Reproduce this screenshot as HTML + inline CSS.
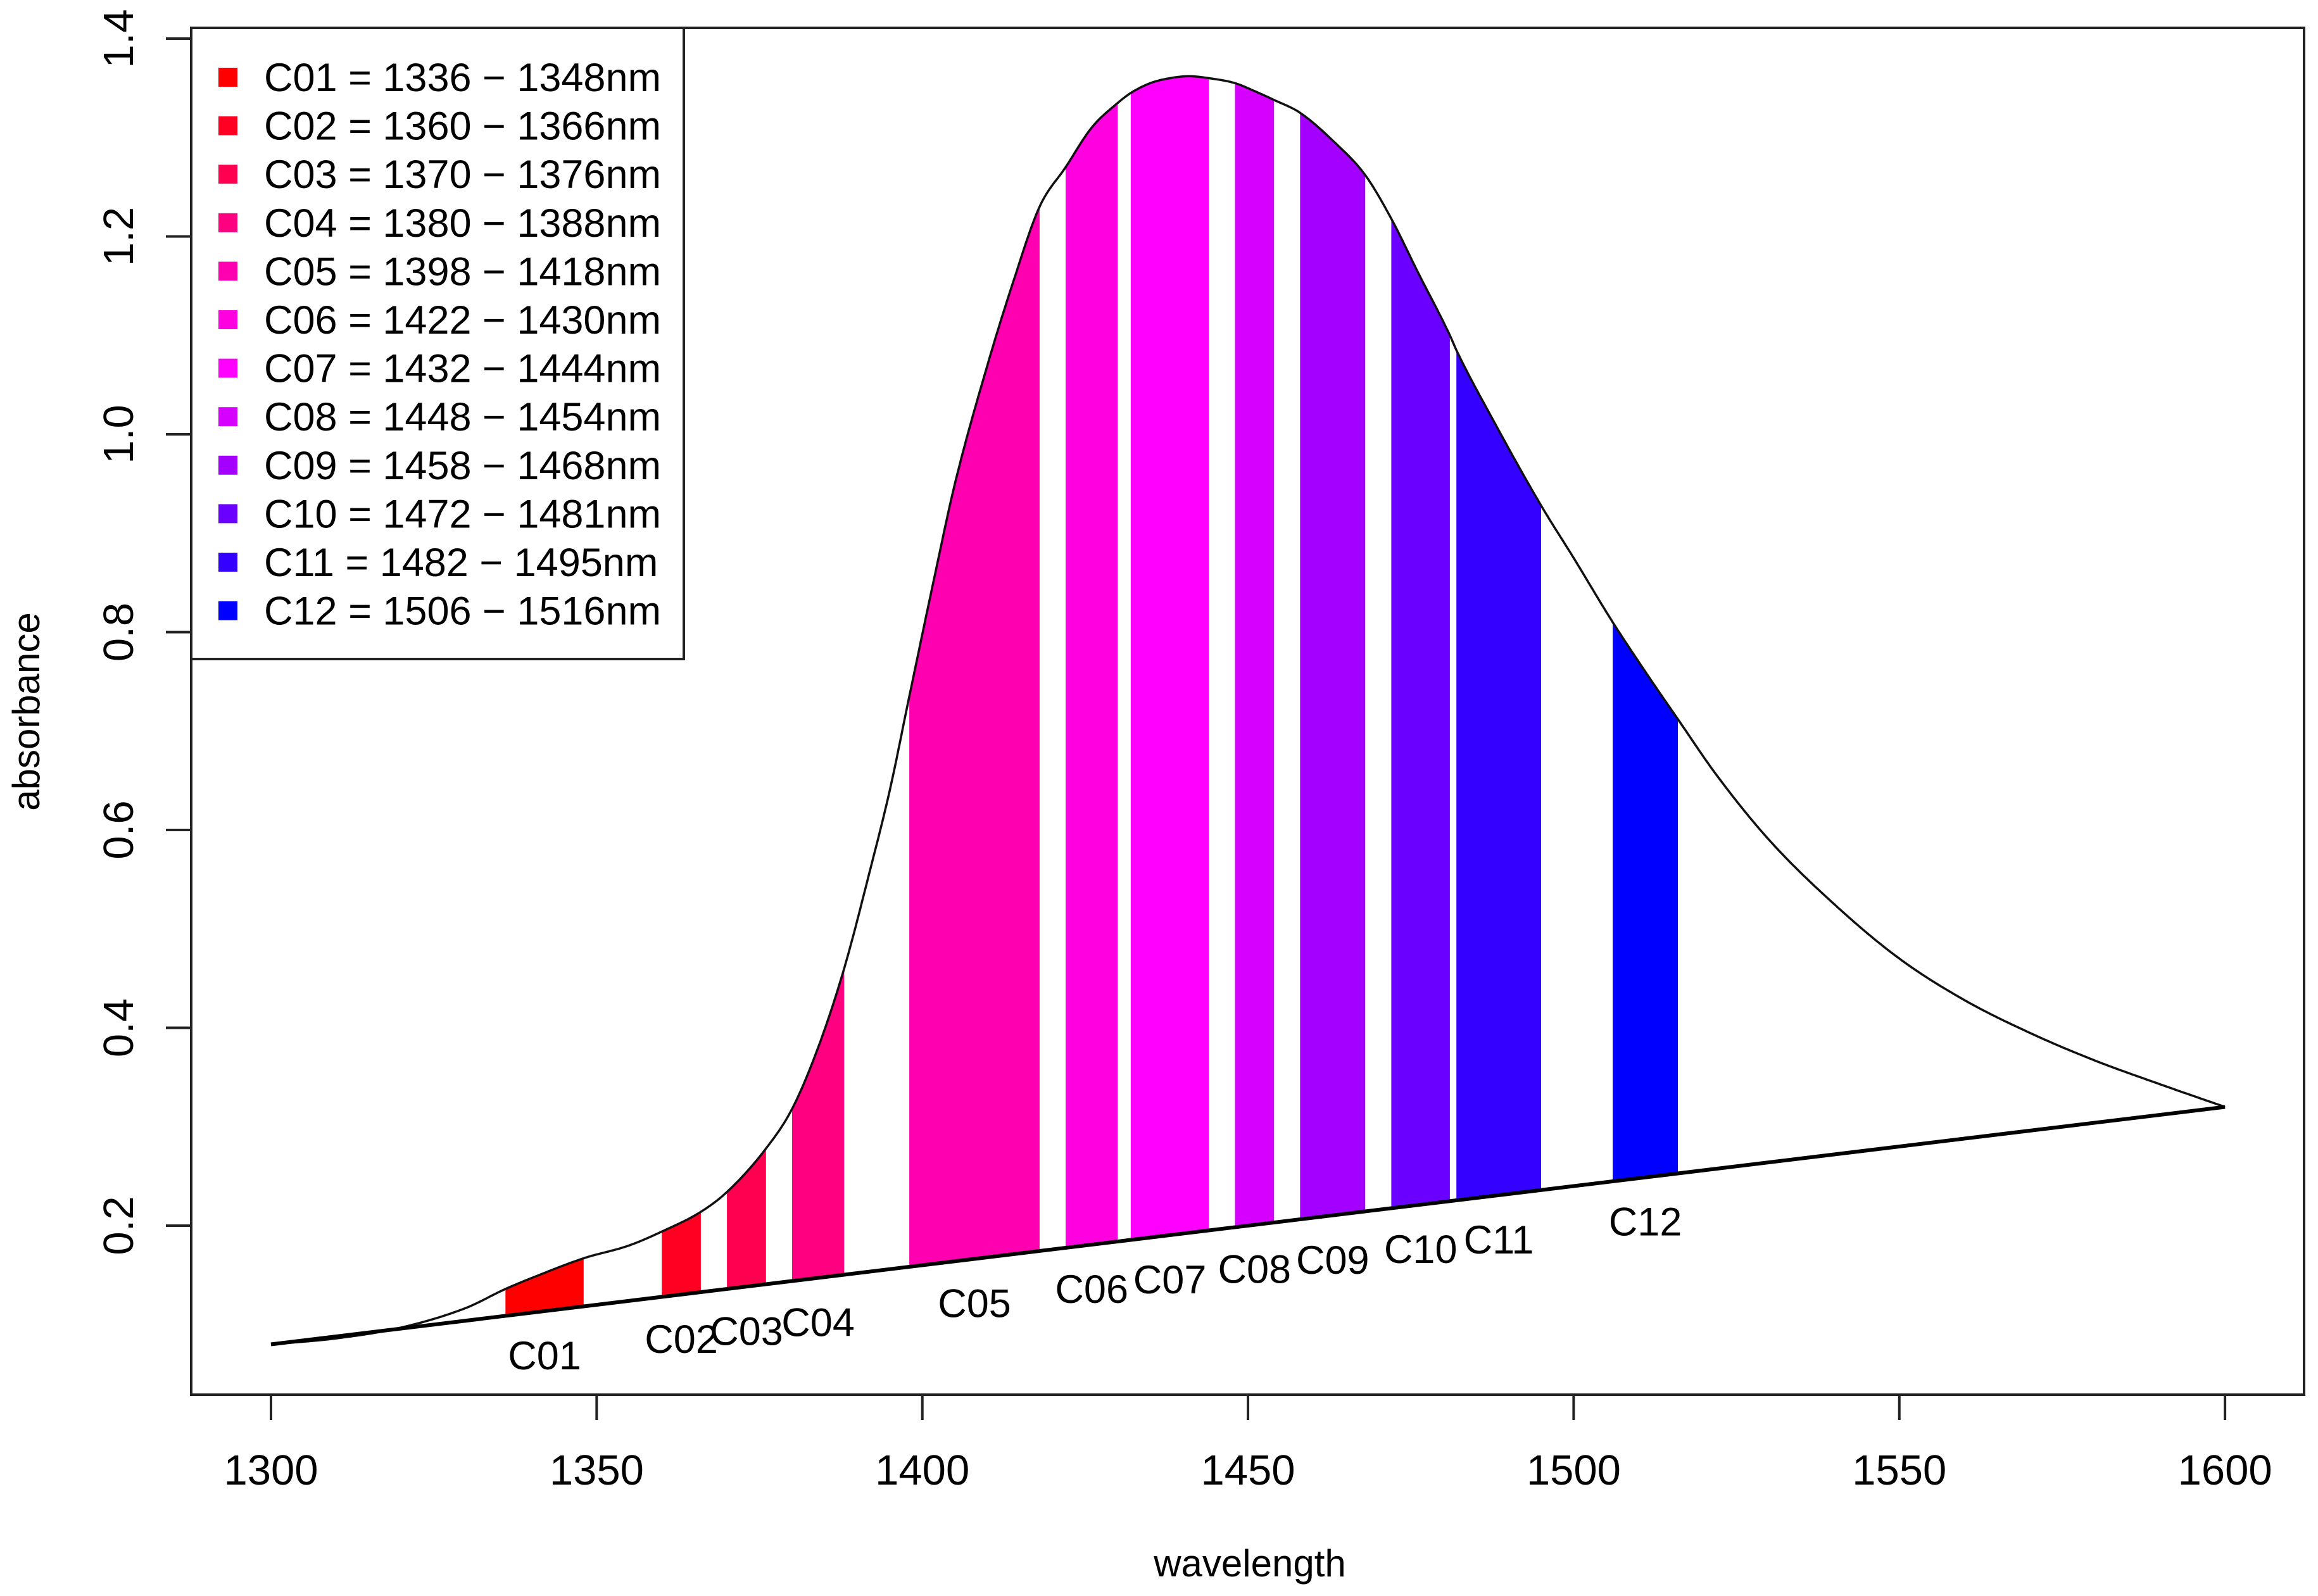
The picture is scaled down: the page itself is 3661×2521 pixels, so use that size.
<!DOCTYPE html>
<html><head><meta charset="utf-8"><style>
html,body{margin:0;padding:0;background:#fff}
svg{display:block}
text{font-family:"Liberation Sans",Arial,sans-serif;fill:#000}
</style></head><body>
<svg id="chart" width="3661" height="2521" viewBox="0 0 3661 2521">
<rect x="302" y="44" width="3337" height="2159" fill="none" stroke="#222" stroke-width="4"/>
<g id="bands"></g>
<g id="lines"></g>
<g id="axes"></g>
<g id="legend"></g>
<text x="1974" y="2490" font-size="60" text-anchor="middle">wavelength</text>
<text x="0" y="0" font-size="60" text-anchor="middle" transform="translate(62,1124) rotate(-90)">absorbance</text>
</svg>
<script>
const curveW = [1300,1310,1320,1330,1336,1340,1348,1355,1360,1366,1370,1376,1380,1384,1388,1392,1395,1398,1402,1405,1410,1414,1418,1422,1426,1430,1432,1435,1438,1441,1444,1448,1451,1454,1458,1463,1468,1472,1476,1481,1482,1488,1495,1500,1506,1511,1516,1522,1530,1540,1550,1560,1570,1580,1590,1600];
const curveV = [0.08,0.086,0.097,0.117,0.136,0.147,0.167,0.180,0.194,0.214,0.234,0.278,0.318,0.380,0.460,0.560,0.640,0.735,0.860,0.950,1.070,1.155,1.230,1.270,1.310,1.335,1.345,1.355,1.360,1.362,1.360,1.355,1.347,1.338,1.325,1.297,1.262,1.218,1.165,1.100,1.085,1.010,0.928,0.875,0.810,0.760,0.712,0.655,0.590,0.525,0.470,0.428,0.395,0.367,0.343,0.320];
const baseStart = [1300,0.08];
const baseEnd = [1600,0.32];
const bandNames = ["C01","C02","C03","C04","C05","C06","C07","C08","C09","C10","C11","C12"];
const bandStart = [1336,1360,1370,1380,1398,1422,1432,1448,1458,1472,1482,1506];
const bandEnd = [1348,1366,1376,1388,1418,1430,1444,1454,1468,1481,1495,1516];
const bandColors = ["#FF0000","#FF0022","#FF0050","#FF0080","#FF00B0","#FF00E0","#FF00FF","#D500FF","#A400FF","#6A00FF","#3400FF","#0000FF"];
const xTicks = [1300,1350,1400,1450,1500,1550,1600];
const yTicks = [0.2,0.4,0.6,0.8,1.0,1.2,1.4];
const yTickLabels = ["0.2","0.4","0.6","0.8","1.0","1.2","1.4"];

const NS="http://www.w3.org/2000/svg";
const X = w => 428 + (w-1300)*10.287;
const Y = v => 61 + (1.4-v)*1562.5;
const base = w => baseStart[1] + (baseEnd[1]-baseStart[1])*(w-baseStart[0])/(baseEnd[0]-baseStart[0]);
// monotone cubic (Fritsch-Carlson) tangents
const n=curveW.length, d=[], m=[];
for(let i=0;i<n-1;i++) d.push((curveV[i+1]-curveV[i])/(curveW[i+1]-curveW[i]));
m[0]=d[0]; m[n-1]=d[n-2];
for(let i=1;i<n-1;i++){ m[i] = (d[i-1]*d[i]<=0)?0:(d[i-1]+d[i])/2; }
for(let i=0;i<n-1;i++){
  if(d[i]===0){m[i]=0;m[i+1]=0;continue;}
  const a=m[i]/d[i], b=m[i+1]/d[i], s=a*a+b*b;
  if(s>9){const t=3/Math.sqrt(s); m[i]=t*a*d[i]; m[i+1]=t*b*d[i];}
}
function curve(w){
  for(let i=0;i<n-1;i++){
    if(w>=curveW[i] && w<=curveW[i+1]){
      const h=curveW[i+1]-curveW[i], t=(w-curveW[i])/h;
      const t2=t*t, t3=t2*t;
      return (2*t3-3*t2+1)*curveV[i]+(t3-2*t2+t)*h*m[i]+(-2*t3+3*t2)*curveV[i+1]+(t3-t2)*h*m[i+1];
    }
  }
  return curveV[n-1];
}
function mk(tag, attrs, parent){
  const e=document.createElementNS(NS,tag);
  for(const k in attrs) e.setAttribute(k, attrs[k]);
  parent.appendChild(e); return e;
}
const gB=document.getElementById('bands'), gL=document.getElementById('lines'), gA=document.getElementById('axes'), gLeg=document.getElementById('legend');

bandNames.forEach((nm,i)=>{
  const s=bandStart[i], e=bandEnd[i];
  let top=[], bot=[];
  for(let w=s; w<=e+1e-9; w+=0.25){ top.push(X(w).toFixed(1)+','+Y(curve(w)).toFixed(1)); }
  for(let w=e; w>=s-1e-9; w-=0.5){ bot.push(X(w).toFixed(1)+','+Y(base(w)).toFixed(1)); }
  const p=mk('polygon',{points:top.concat(bot).join(' '),fill:bandColors[i]},gB);
  
  
  const c=(s+e)/2;
  const t=mk('text',{x:X(c).toFixed(1),y:(Y(base(c))+92).toFixed(1),'font-size':'63','text-anchor':'middle'},gB);
  t.textContent=nm;
  
  
});

let pts=[];
for(let w=1300; w<=1600; w+=0.25) pts.push(X(w).toFixed(1)+','+Y(curve(w)).toFixed(1));
const cl=mk('polyline',{points:pts.join(' '),fill:'none',stroke:'#111','stroke-width':'3.5'},gL);


const bl=mk('line',{x1:X(baseStart[0]),y1:Y(baseStart[1]),x2:X(baseEnd[0]),y2:Y(baseEnd[1]),stroke:'#000','stroke-width':'6'},gL);



xTicks.forEach(v=>{
  const l=mk('line',{x1:X(v),y1:2203,x2:X(v),y2:2243,stroke:'#222','stroke-width':'4'},gA);
  
  
  const t=mk('text',{x:X(v),y:2345,'font-size':'67','text-anchor':'middle'},gA);
  t.textContent=String(v);
  
  
});
yTicks.forEach((v,i)=>{
  const l=mk('line',{x1:262,y1:Y(v),x2:302,y2:Y(v),stroke:'#222','stroke-width':'4'},gA);
  
  
  const t=mk('text',{x:0,y:0,'font-size':'67','text-anchor':'middle',transform:'translate(210,'+Y(v).toFixed(1)+') rotate(-90)'},gA);
  t.textContent=yTickLabels[i];
  
  
});

const lb=mk('rect',{x:302,y:44,width:778,height:997,fill:'#fff',stroke:'#222','stroke-width':'4'},gLeg);


bandNames.forEach((nm,i)=>{
  const cy=122+i*76.6;
  const sq=mk('rect',{x:345,y:cy-15,width:30,height:30,fill:bandColors[i]},gLeg);
  
  
  const t=mk('text',{x:417,y:cy+22,'font-size':'63'},gLeg);
  t.textContent=nm+' = '+bandStart[i]+' \u2212 '+bandEnd[i]+'nm';
  
  
});
</script>
</body></html>
